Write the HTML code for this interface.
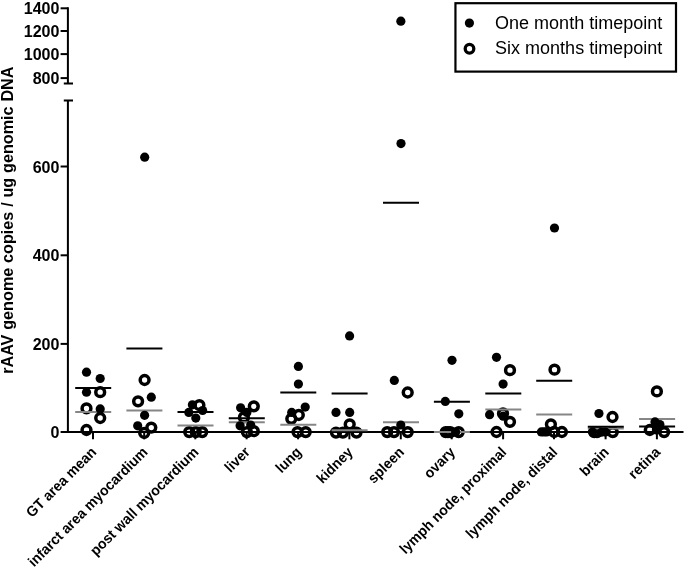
<!DOCTYPE html>
<html><head><meta charset="utf-8"><title>rAAV genome copies</title>
<style>
html,body{margin:0;padding:0;background:#fff;}
body{width:685px;height:569px;overflow:hidden;}
svg{display:block;}
text{font-family:"Liberation Sans",sans-serif;fill:#000;}
.b{font-weight:bold;}
</style></head><body>
<svg width="685" height="569" viewBox="0 0 685 569">
<rect width="685" height="569" fill="#fff"/>

<g stroke="#000" stroke-width="2" fill="none">
<path d="M67.9 7.3V83.5M63.8 83.5H73M63.8 100.5H73M67.9 100.5V433.0"/>
<path d="M66.9 432.0H683.5"/>
<path d="M60.6 8.3H67.9"/>
<path d="M60.6 31.0H67.9"/>
<path d="M60.6 54.1H67.9"/>
<path d="M60.6 78.1H67.9"/>
<path d="M60.6 166.5H67.9"/>
<path d="M60.6 255.3H67.9"/>
<path d="M60.6 343.9H67.9"/>
<path d="M60.6 432.0H67.9"/>
<path d="M93 432.0V439.3"/>
<path d="M144.2 432.0V439.3"/>
<path d="M195.3 432.0V439.3"/>
<path d="M246.6 432.0V439.3"/>
<path d="M298.1 432.0V439.3"/>
<path d="M349.4 432.0V439.3"/>
<path d="M400.8 432.0V439.3"/>
<path d="M451.7 432.0V439.3"/>
<path d="M503.1 432.0V439.3"/>
<path d="M554 432.0V439.3"/>
<path d="M605.6 432.0V439.3"/>
<path d="M656.9 432.0V439.3"/>
</g>
<g class="b" font-size="17.2" text-anchor="end">
<text transform="translate(59.5 14.4) scale(0.935 1)">1400</text>
<text transform="translate(59.5 37.1) scale(0.935 1)">1200</text>
<text transform="translate(59.5 60.2) scale(0.935 1)">1000</text>
<text transform="translate(59.5 84.2) scale(0.935 1)">800</text>
<text transform="translate(59.5 172.6) scale(0.935 1)">600</text>
<text transform="translate(59.5 261.4) scale(0.935 1)">400</text>
<text transform="translate(59.5 350.0) scale(0.935 1)">200</text>
<text transform="translate(59.5 438.1) scale(0.935 1)">0</text>
</g>
<text class="b" font-size="16.2" text-anchor="middle" transform="translate(13.1 220.2) rotate(-90)" style="font-kerning:normal" word-spacing="0.3">rAAV genome copies / ug genomic DNA</text>
<g class="b" font-size="14.6" text-anchor="end">
<text transform="translate(97.25 453) rotate(-45) scale(0.955 1)">GT area mean</text>
<text transform="translate(148.45 453) rotate(-45) scale(0.955 1)">infarct area myocardium</text>
<text transform="translate(199.55 453) rotate(-45) scale(0.955 1)">post wall myocardium</text>
<text transform="translate(250.85 453) rotate(-45) scale(0.955 1)">liver</text>
<text transform="translate(302.35 453) rotate(-45) scale(0.955 1)">lung</text>
<text transform="translate(353.65 453) rotate(-45) scale(0.955 1)">kidney</text>
<text transform="translate(405.05 453) rotate(-45) scale(0.955 1)">spleen</text>
<text transform="translate(455.95 453) rotate(-45) scale(0.955 1)">ovary</text>
<text transform="translate(507.35 453) rotate(-45) scale(0.955 1)">lymph node, proximal</text>
<text transform="translate(558.25 453) rotate(-45) scale(0.955 1)">lymph node, distal</text>
<text transform="translate(609.85 453) rotate(-45) scale(0.955 1)">brain</text>
<text transform="translate(661.15 453) rotate(-45) scale(0.955 1)">retina</text>
</g>
<g fill="none" stroke="#000" stroke-width="3.5">
<circle cx="100.2" cy="392.2" r="4.4"/>
<circle cx="86.5" cy="408.4" r="4.4"/>
<circle cx="100.2" cy="418" r="4.4"/>
<circle cx="86.5" cy="430.0" r="4.4"/>
<circle cx="144.6" cy="380" r="4.4"/>
<circle cx="138.1" cy="401.3" r="4.4"/>
<circle cx="151.3" cy="427.6" r="4.4"/>
<circle cx="144.2" cy="433.0" r="4.4"/>
<circle cx="199.4" cy="405.2" r="4.4"/>
<circle cx="189.2" cy="432.1" r="4.4"/>
<circle cx="195.8" cy="432.1" r="4.4"/>
<circle cx="202.2" cy="432.1" r="4.4"/>
<circle cx="253.8" cy="406.3" r="4.4"/>
<circle cx="243.9" cy="417.4" r="4.4"/>
<circle cx="246.9" cy="432.1" r="4.4"/>
<circle cx="253.8" cy="431.2" r="4.4"/>
<circle cx="298.8" cy="415" r="4.4"/>
<circle cx="291.3" cy="418.8" r="4.4"/>
<circle cx="297.5" cy="432.1" r="4.4"/>
<circle cx="305.7" cy="432.1" r="4.4"/>
<circle cx="349.7" cy="424.3" r="4.4"/>
<circle cx="336" cy="432.6" r="4.4"/>
<circle cx="342.9" cy="432.6" r="4.4"/>
<circle cx="356.5" cy="432.6" r="4.4"/>
<circle cx="407.7" cy="392.5" r="4.4"/>
<circle cx="387.2" cy="432.1" r="4.4"/>
<circle cx="394" cy="432.1" r="4.4"/>
<circle cx="407.7" cy="432.1" r="4.4"/>
<circle cx="445.7" cy="432.1" r="4.4"/>
<circle cx="448.0" cy="432.1" r="4.4"/>
<circle cx="450.3" cy="432.1" r="4.4"/>
<circle cx="458.7" cy="432.1" r="4.4"/>
<circle cx="510" cy="370.2" r="4.4"/>
<circle cx="503" cy="413.4" r="4.4"/>
<circle cx="510" cy="421.8" r="4.4"/>
<circle cx="496.5" cy="432.0" r="4.4"/>
<circle cx="554.5" cy="369.7" r="4.4"/>
<circle cx="550.9" cy="424.3" r="4.4"/>
<circle cx="554.2" cy="432.0" r="4.4"/>
<circle cx="561.9" cy="432.0" r="4.4"/>
<circle cx="612.5" cy="417.0" r="4.4"/>
<circle cx="612.8" cy="432.1" r="4.4"/>
<circle cx="597.0" cy="432.1" r="4.4"/>
<circle cx="594.2" cy="432.1" r="4.4"/>
<circle cx="656.9" cy="391.4" r="4.4"/>
<circle cx="649.8" cy="430.0" r="4.4"/>
<circle cx="664.1" cy="432.1" r="4.4"/>
</g>
<g stroke="#868686" stroke-width="2">
<path d="M75.2 411.9h36"/>
<path d="M126.4 410.4h36"/>
<path d="M177.5 425.5h36"/>
<path d="M228.8 422.3h36"/>
<path d="M280.3 424.8h36"/>
<path d="M331.6 430.2h36"/>
<path d="M383.0 422.2h36"/>
<path d="M433.9 432.1h36"/>
<path d="M485.3 409.4h36"/>
<path d="M536.2 414.6h36"/>
<path d="M587.8 428.6h36"/>
<path d="M639.1 419.1h36"/>
</g>
<g fill="#000">
<circle cx="86.5" cy="372.2" r="4.6"/>
<circle cx="100.2" cy="378.5" r="4.6"/>
<circle cx="86.5" cy="392.2" r="4.6"/>
<circle cx="100.2" cy="408.9" r="4.6"/>
<circle cx="144.7" cy="157.2" r="4.6"/>
<circle cx="151.3" cy="397.2" r="4.6"/>
<circle cx="144.6" cy="415.3" r="4.6"/>
<circle cx="137.7" cy="425.8" r="4.6"/>
<circle cx="192.4" cy="404.8" r="4.6"/>
<circle cx="188.8" cy="412.4" r="4.6"/>
<circle cx="202.6" cy="410.5" r="4.6"/>
<circle cx="195.8" cy="418.1" r="4.6"/>
<circle cx="240.6" cy="407.8" r="4.6"/>
<circle cx="246.9" cy="412.4" r="4.6"/>
<circle cx="240.1" cy="425.8" r="4.6"/>
<circle cx="250.7" cy="425.0" r="4.6"/>
<circle cx="298.4" cy="366.4" r="4.6"/>
<circle cx="298.4" cy="384.1" r="4.6"/>
<circle cx="305.2" cy="407.1" r="4.6"/>
<circle cx="291.7" cy="412.4" r="4.6"/>
<circle cx="349.6" cy="335.9" r="4.6"/>
<circle cx="336" cy="412.4" r="4.6"/>
<circle cx="349.7" cy="412.4" r="4.6"/>
<circle cx="400.85" cy="21.2" r="4.6"/>
<circle cx="401.0" cy="143.6" r="4.6"/>
<circle cx="394.3" cy="380.4" r="4.6"/>
<circle cx="400.8" cy="425.0" r="4.6"/>
<circle cx="452" cy="360.3" r="4.6"/>
<circle cx="445.3" cy="401.4" r="4.6"/>
<circle cx="458.8" cy="413.8" r="4.6"/>
<circle cx="455.6" cy="432.1" r="4.6"/>
<circle cx="496.5" cy="357.3" r="4.6"/>
<circle cx="503.1" cy="384.1" r="4.6"/>
<circle cx="489.6" cy="414.7" r="4.6"/>
<circle cx="503.2" cy="416.2" r="4.6"/>
<circle cx="554.5" cy="228" r="4.6"/>
<circle cx="541.4" cy="431.9" r="4.6"/>
<circle cx="544.1" cy="431.9" r="4.6"/>
<circle cx="546.7" cy="431.9" r="4.6"/>
<circle cx="598.95" cy="413.5" r="4.6"/>
<circle cx="592.6" cy="432.1" r="4.6"/>
<circle cx="601.8" cy="432.1" r="4.6"/>
<circle cx="605.4" cy="432.1" r="4.6"/>
<circle cx="655.0" cy="421.9" r="4.6"/>
<circle cx="659.9" cy="424.5" r="4.6"/>
<circle cx="656.4" cy="430.0" r="4.6"/>
</g>
<g stroke="#000" stroke-width="2">
<path d="M75.2 388.1h36"/>
<path d="M126.4 348.6h36"/>
<path d="M177.5 411.9h36"/>
<path d="M228.8 418.3h36"/>
<path d="M280.3 392.5h36"/>
<path d="M331.6 393.4h36"/>
<path d="M383.0 202.8h36"/>
<path d="M433.9 401.8h36"/>
<path d="M485.3 393.5h36"/>
<path d="M536.2 380.8h36"/>
<path d="M587.8 426.8h36"/>
<path d="M639.1 426.5h36"/>
</g>
<rect x="455.45" y="3.2" width="220.55" height="68.4" fill="#fff" stroke="#000" stroke-width="2.2"/>
<circle cx="469.4" cy="23.1" r="4.6" fill="#000"/>
<circle cx="469.5" cy="48.75" r="4.3" fill="none" stroke="#000" stroke-width="3.3"/>
<g font-size="18"><text x="495.1" y="28.6">One month timepoint</text><text x="495.1" y="54">Six months timepoint</text></g>
</svg>
</body></html>
